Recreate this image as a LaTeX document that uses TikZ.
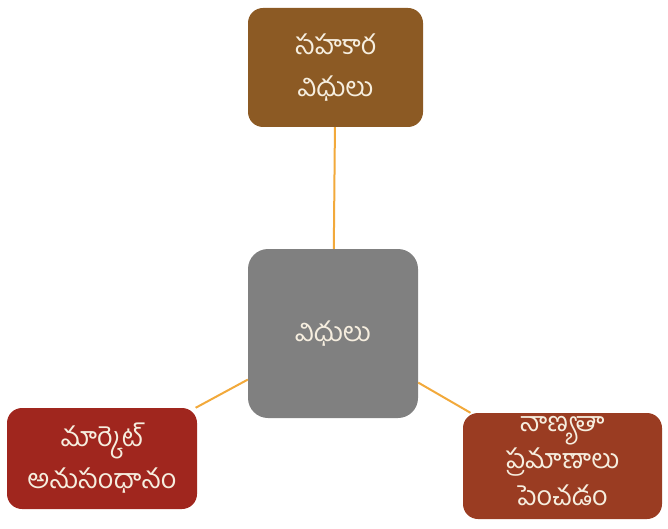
\documentclass[tikz,border=0pt]{standalone}
\usepackage{fontspec}
\newfontfamily\telugu[Script=Telugu]{Hind Guntur}
\definecolor{topbrown}{HTML}{8C5A24}
\definecolor{midgray}{HTML}{808080}
\definecolor{leftred}{HTML}{A0261E}
\definecolor{rightred}{HTML}{9A3C22}
\definecolor{linkorange}{HTML}{F2A93B}
\definecolor{txt}{HTML}{F6EEDF}
\tikzset{
  box/.style={rounded corners=15pt, inner sep=2pt, align=center, text=txt,
    font=\telugu\fontsize{27}{42}\selectfont},
  link/.style={draw=linkorange, line width=2pt}
}
\begin{document}
\begin{tikzpicture}[x=1pt,y=1pt]
\useasboundingbox (0,0) rectangle (668,-529);
\node[box, fill=topbrown, minimum width=175pt, minimum height=119pt] (top) at (335.5,-67.5) {సహకార\\విధులు};
\node[box, fill=midgray, rounded corners=20pt, minimum width=170pt, minimum height=169pt] (mid) at (333,-333.5) {విధులు};
\node[box, fill=leftred, minimum width=190pt, minimum height=101pt] (left) at (102,-458.5) {మార్కెట్\\అనుసంధానం};
\node[box, fill=rightred, minimum width=199pt, minimum height=106pt] (right) at (562.5,-466) {};
\node[box, font=\telugu\fontsize{27}{37}\selectfont, anchor=center] (righttext) at ([yshift=5pt]right.center) {నాణ్యతా\\ప్రమాణాలు\\పెంచడం};
\draw[link] (mid) -- (top);
\draw[link] (mid) -- (left);
\draw[link] (mid) -- (right);
\end{tikzpicture}
\end{document}
